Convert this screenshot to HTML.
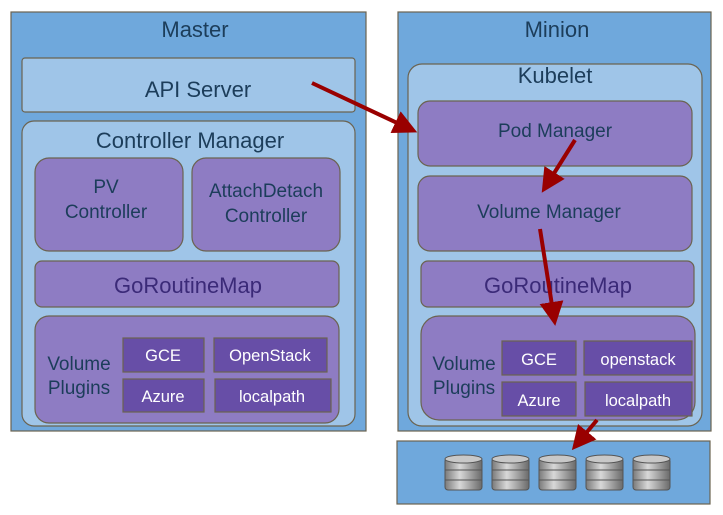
<!DOCTYPE html>
<html><head><meta charset="utf-8"><style>html,body{margin:0;padding:0;background:#fff}svg{display:block}text{font-family:"Liberation Sans",sans-serif;text-anchor:middle}</style></head><body>
<svg width="723" height="515" viewBox="0 0 723 515" xmlns="http://www.w3.org/2000/svg">
<defs><marker id="a" markerWidth="6" markerHeight="6" refX="4" refY="3" orient="auto" markerUnits="strokeWidth"><path d="M0,0 L6,3 L0,6 z" fill="#990000"/></marker>
<linearGradient id="g" x1="0" x2="1"><stop offset="0" stop-color="#7a7a7a"/><stop offset=".4" stop-color="#d8d8d8"/><stop offset="1" stop-color="#6a6a6a"/></linearGradient></defs>
<g stroke="#6b6350" stroke-width="1.2">
<rect x="11" y="12" width="355" height="419" fill="#6fa8dc"/>
<rect x="22" y="58" width="333" height="54" rx="3" fill="#9fc5e8"/>
<rect x="22" y="121" width="333" height="305" rx="12" fill="#9fc5e8"/>
<rect x="35" y="158" width="148" height="93" rx="14" fill="#8e7cc3"/>
<rect x="192" y="158" width="148" height="93" rx="14" fill="#8e7cc3"/>
<rect x="35" y="261" width="304" height="46" rx="7" fill="#8e7cc3"/>
<rect x="35" y="316" width="304" height="107" rx="14" fill="#8e7cc3"/>
<rect x="123" y="338" width="81" height="34" fill="#674ea7"/>
<rect x="214" y="338" width="113" height="34" fill="#674ea7"/>
<rect x="123" y="379" width="81" height="33" fill="#674ea7"/>
<rect x="215" y="379" width="116" height="33" fill="#674ea7"/>
<rect x="398" y="12" width="313" height="419" fill="#6fa8dc"/>
<rect x="408" y="64" width="294" height="362" rx="14" fill="#9fc5e8"/>
<rect x="418" y="101" width="274" height="65" rx="12" fill="#8e7cc3"/>
<rect x="418" y="176" width="274" height="75" rx="12" fill="#8e7cc3"/>
<rect x="421" y="261" width="273" height="46" rx="7" fill="#8e7cc3"/>
<rect x="421" y="316" width="274" height="104" rx="18" fill="#8e7cc3"/>
<rect x="502" y="341" width="74" height="34" fill="#674ea7"/>
<rect x="584" y="341" width="108" height="34" fill="#674ea7"/>
<rect x="502" y="382" width="74" height="34" fill="#674ea7"/>
<rect x="585" y="382" width="107" height="34" fill="#674ea7"/>
<rect x="397" y="441" width="313" height="63" fill="#6fa8dc"/>
</g>
<g fill="#1c3d5a" font-size="22">
<text x="195" y="37">Master</text>
<text x="557" y="37">Minion</text>
<text x="198" y="97">API Server</text>
<text x="190" y="148">Controller Manager</text>
<text x="555" y="83">Kubelet</text>
</g>
<g fill="#1c3d5a" font-size="19">
<text x="106" y="193">PV</text><text x="106" y="218">Controller</text>
<text x="266" y="197">AttachDetach</text><text x="266" y="222">Controller</text>
<text x="555" y="137">Pod Manager</text>
<text x="549" y="218">Volume Manager</text>
<text x="79" y="370">Volume</text><text x="79" y="394">Plugins</text>
<text x="464" y="370">Volume</text><text x="464" y="394">Plugins</text>
</g>
<g fill="#3b2a78" font-size="22"><text x="188" y="293">GoRoutineMap</text><text x="558" y="293">GoRoutineMap</text></g>
<g fill="#fff" font-size="16.5">
<text x="163" y="361">GCE</text><text x="270" y="361">OpenStack</text>
<text x="163" y="402">Azure</text><text x="272" y="402">localpath</text>
<text x="539" y="365">GCE</text><text x="638" y="365">openstack</text>
<text x="539" y="406">Azure</text><text x="638" y="406">localpath</text>
</g>
<g>
<g id="d"><rect x="445" y="458" width="37" height="32" rx="3" fill="url(#g)" stroke="#555"/><ellipse cx="463.5" cy="459" rx="18.5" ry="4" fill="#c8c8c8" stroke="#555"/><path d="M445,470 h37 M445,480 h37" stroke="#555"/></g>
<use href="#d" x="47"/><use href="#d" x="94"/><use href="#d" x="141"/><use href="#d" x="188"/>
</g>
<g stroke="#990000" stroke-width="4" fill="none">
<line x1="312" y1="83" x2="410" y2="129" marker-end="url(#a)"/>
<line x1="575" y1="140" x2="546" y2="186" marker-end="url(#a)"/>
<line x1="540" y1="229" x2="554" y2="318" marker-end="url(#a)"/>
<line x1="597" y1="420" x2="577" y2="444" marker-end="url(#a)"/>
</g>
</svg>
</body></html>
